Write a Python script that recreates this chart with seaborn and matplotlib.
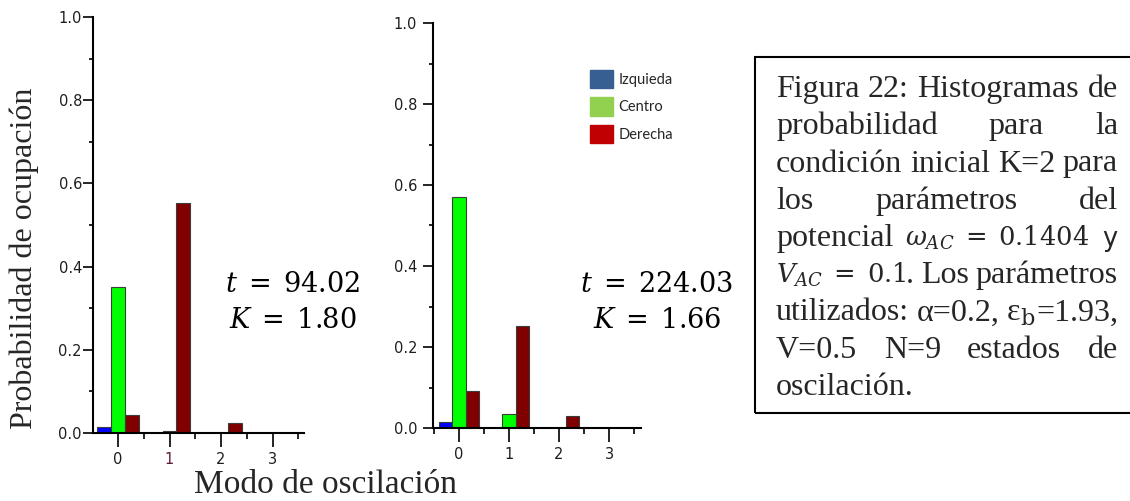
import numpy as np
import pandas as pd
import matplotlib
matplotlib.use("Agg")
import matplotlib.pyplot as plt
import seaborn as sns
from matplotlib.patches import Patch, Rectangle
from matplotlib.ticker import MultipleLocator, FixedLocator, FormatStrFormatter

# ---------------- data ----------------
modos = [0, 1, 2, 3]
lados = ["Izquieda", "Centro", "Derecha"]

izq_1 = [0.015, 0.0, 0.0, 0.0]
centro_1 = [0.352, 0.005, 0.0, 0.0]
derecha_1 = [0.044, 0.554, 0.024, 0.0]

izq_2 = [0.014, 0.0, 0.0, 0.0]
centro_2 = [0.570, 0.035, 0.0, 0.0]
derecha_2 = [0.092, 0.253, 0.029, 0.0]

anot_1 = [r"$t\;=\;94.02$", r"$K\;=\;1.80$"]
anot_2 = [r"$t\;=\;224.03$", r"$K\;=\;1.66$"]

ytick_vals = [0.0, 0.2, 0.4, 0.6, 0.8, 1.0]
xtick_labels = ["0", "1", "2", "3"]

# each word is a list of glued pieces; pieces starting with "$" are math
caption_lines = [
    [["Figura"], ["22:"], ["Histogramas"], ["de"]],
    [["probabilidad"], ["para"], ["la"]],
    [["condición"], ["inicial"], ["K=2"], ["para"]],
    [["los"], ["parámetros"], ["del"]],
    [["potencial"], [r"$\omega_{AC}\;=\;0.1404$"], [r"$\mathsf{y}$"]],
    [[r"$V_{AC}\;=\;0.1$", "."], ["Los"], ["parámetros"]],
    [["utilizados:"], ["α=0.2,"], ["ε", r"$_\mathrm{b}$", "=1.93,"]],
    [["V=0.5"], ["N=9"], ["estados"], ["de"]],
    [["oscilación."]],
]

# ---------------- style ----------------
bar_colors = {"Izquieda": "#0000FF", "Centro": "#00FF00", "Derecha": "#800000"}
legend_colors = ["#375F91", "#92D050", "#C00000"]

sns.set_style("ticks")
plt.rcParams["mathtext.fontset"] = "dejavuserif"
plt.rcParams["font.family"] = ["DejaVu Sans"]

W, H = 1130, 501
fig = plt.figure(figsize=(W / 100, H / 100), dpi=100)
fig.patch.set_facecolor("white")


def px_rect(x0, y0, x1, y1):
    return [x0 / W, 1 - y1 / H, (x1 - x0) / W, (y1 - y0) / H]


def to_long(izq, cen, der):
    return pd.DataFrame({
        "modo": modos * 3,
        "lado": [l for l in lados for _ in modos],
        "prob": izq + cen + der,
    })


panels = [
    dict(rect=px_rect(93, 17, 304, 433), xlim=(-0.485, 3.61),
         data=to_long(izq_1, centro_1, derecha_1), ypad=0.5),
    dict(rect=px_rect(433, 23, 641, 428), xlim=(-0.52, 3.64),
         data=to_long(izq_2, centro_2, derecha_2), ypad=4.0),
]

axes = []
for p in panels:
    ax = fig.add_axes(p["rect"])
    sns.barplot(data=p["data"], x="modo", y="prob", hue="lado",
                order=modos, hue_order=lados, palette=bar_colors,
                saturation=1, width=0.8, errorbar=None,
                edgecolor="#3c3c3c", linewidth=0.8, legend=False, ax=ax)
    ax.set_xlim(*p["xlim"])
    ax.set_ylim(0, 1.0)
    ax.set_xlabel("")
    ax.set_ylabel("")
    ax.set_yticks(ytick_vals)
    ax.yaxis.set_major_formatter(FormatStrFormatter("%.1f"))
    ax.yaxis.set_minor_locator(MultipleLocator(0.1))
    ax.set_xticks(range(len(modos)))
    ax.set_xticklabels(xtick_labels)
    ax.xaxis.set_minor_locator(FixedLocator([-0.5, 0.5, 1.5, 2.5, 3.5]))
    sns.despine(ax=ax)
    for s in ["left", "bottom"]:
        ax.spines[s].set_linewidth(1.5)
        ax.spines[s].set_color("black")
    ax.tick_params(axis="x", which="both", bottom=True)
    ax.tick_params(axis="y", which="both", left=True)
    ax.tick_params(axis="x", which="major", direction="out", length=10,
                   width=1.2, pad=4, labelsize=10.5, labelcolor="#1e1e1e",
                   color="black")
    ax.tick_params(axis="x", which="minor", direction="out", length=4,
                   width=1.2, color="black")
    ax.tick_params(axis="y", which="major", direction="out", length=7.5,
                   width=1.2, pad=p["ypad"], labelsize=10.5,
                   labelcolor="#1e1e1e", color="black")
    ax.tick_params(axis="y", which="minor", direction="out", length=3,
                   width=1.2, color="black")
    ax.set_facecolor("none")
    axes.append(ax)

axes[0].get_xticklabels()[1].set_color("#5e1a3c")

# annotations t / K
for cx, lines in [(293, anot_1), (657, anot_2)]:
    for yb, s in zip([292, 328], lines):
        fig.text(cx / W, 1 - yb / H, s, ha="center", va="baseline",
                 fontsize=19.5, color="black")

# legend
handles = [Patch(facecolor=c, edgecolor=c) for c in legend_colors]
axes[1].legend(handles, lados, loc="upper left",
               bbox_to_anchor=(590 / W, 1 - 70 / H),
               bbox_transform=fig.transFigure, frameon=False,
               borderpad=0, borderaxespad=0, handlelength=1.55,
               handleheight=1.55, labelspacing=0.62, handletextpad=0.4,
               prop={"family": "Lato", "size": 10.5})

# axis labels
fig.text(24 / W, 1 - 258 / H, "Probabilidad de ocupación", rotation=90,
         ha="center", va="center", fontsize=23, family="Liberation Serif")
fig.text(326 / W, 1 - 493 / H, "Modo de oscilación", ha="center",
         va="baseline", fontsize=24, family="Liberation Serif")

# caption box
fig.add_artist(Rectangle((755 / W, 1 - 413 / H), (1140 - 755) / W,
                         (413 - 57) / H, transform=fig.transFigure,
                         fill=False, edgecolor="black", linewidth=1.5))

renderer = fig.canvas.get_renderer()
x_left, x_right = 776, 1118
text_size, math_size = 23, 18.5
for i, words in enumerate(caption_lines):
    yb = 97 + i * 37.25
    word_parts = []
    word_widths = []
    for word in words:
        parts = []
        for piece in word:
            is_math = piece.startswith("$")
            t = fig.text(0, 1 - yb / H, piece,
                         fontsize=math_size if (is_math and not piece.startswith("$_")) else text_size,
                         family="Liberation Serif", va="baseline", ha="left")
            parts.append((t, t.get_window_extent(renderer).width))
        word_parts.append(parts)
        word_widths.append(sum(w for _, w in parts))
    last = (i == len(caption_lines) - 1) or len(words) == 1
    gap = 7.5 if last else (x_right - x_left - sum(word_widths)) / (len(words) - 1)
    x = x_left
    for parts in word_parts:
        for t, w in parts:
            t.set_x(x / W)
            x += w
        x += gap

fig.savefig("out.png", dpi=100, facecolor="white")
